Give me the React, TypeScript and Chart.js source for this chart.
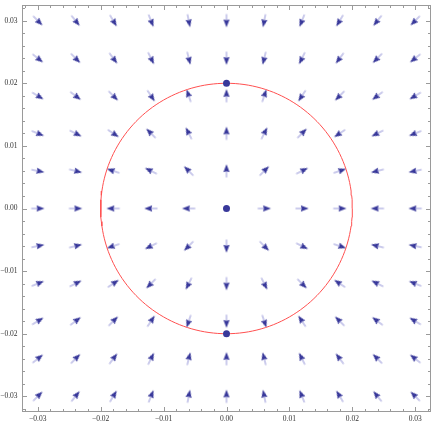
import { useEffect, useRef } from "react";
import { Chart, registerables } from "chart.js";

Chart.register(...registerables);

// ---- data ----
const AXIS_MIN = -0.0325;
const AXIS_MAX = 0.0325;
const GRID_X = [-0.03, -0.024, -0.018, -0.012, -0.006, 0, 0.006, 0.012, 0.018, 0.024, 0.03];
const GRID_Y = [-0.03, -0.024, -0.018, -0.012, -0.006, 0, 0.006, 0.012, 0.018, 0.024, 0.03];
const CIRCLE_RADIUS = 0.02;
const POINTS_X = [0, 0, 0];
const POINTS_Y = [0.02, 0, -0.02];
const MAJOR_TICKS = [-0.03, -0.02, -0.01, 0, 0.01, 0.02, 0.03];
const X_TICK_LABELS = ["\u22120.03", "\u22120.02", "\u22120.01", "0.00", "0.01", "0.02", "0.03"];
const Y_TICK_LABELS = ["\u22120.03", "\u22120.02", "\u22120.01", "0.00", "0.01", "0.02", "0.03"];
const MINOR_STEP = 0.002;

// vector field: radial, outward inside the circle, inward outside
function field(x: number, y: number): [number, number] {
  const r = Math.hypot(x, y);
  const s = CIRCLE_RADIUS - r;
  return [x * s, y * s];
}

function makeArrow(): HTMLCanvasElement {
  const c = document.createElement("canvas");
  c.width = 16;
  c.height = 16;
  const g = c.getContext("2d")!;
  g.strokeStyle = "rgba(135,135,210,0.85)";
  g.lineWidth = 1;
  g.beginPath();
  g.moveTo(8, 7.5);
  g.lineTo(8, 14.5);
  g.stroke();
  g.fillStyle = "#38389a";
  g.beginPath();
  g.moveTo(8, 1.3);
  g.lineTo(11.1, 9.2);
  g.lineTo(8, 8.2);
  g.lineTo(4.9, 9.2);
  g.closePath();
  g.fill();
  return c;
}

const FONT = "7.5px 'Liberation Serif', 'DejaVu Serif', serif";

const framePlugin = {
  id: "frameTicks",
  afterDraw(chart: any) {
    const { ctx, chartArea } = chart;
    const { left, right, top, bottom } = chartArea;
    const xs = chart.scales.x;
    const ys = chart.scales.y;
    ctx.save();
    ctx.strokeStyle = "#9a9a9a";
    ctx.lineWidth = 1;
    ctx.strokeRect(left + 0.5, top + 0.5, right - left - 1, bottom - top - 1);
    ctx.beginPath();
    const n = Math.round((AXIS_MAX - AXIS_MIN) / MINOR_STEP) + 2;
    for (let i = -n; i <= n; i++) {
      const v = i * MINOR_STEP;
      if (v < AXIS_MIN || v > AXIS_MAX) continue;
      const major = Math.abs(Math.round(v / 0.01) * 0.01 - v) < 1e-9;
      const len = major ? 5 : 3;
      const px = Math.round(xs.getPixelForValue(v)) + 0.5;
      ctx.moveTo(px, bottom);
      ctx.lineTo(px, bottom - len);
      ctx.moveTo(px, top);
      ctx.lineTo(px, top + len);
      const py = Math.round(ys.getPixelForValue(v)) + 0.5;
      ctx.moveTo(left, py);
      ctx.lineTo(left + len, py);
      ctx.moveTo(right, py);
      ctx.lineTo(right - len, py);
    }
    ctx.stroke();
    // tick labels
    ctx.fillStyle = "#333";
    ctx.font = FONT;
    ctx.textAlign = "center";
    ctx.textBaseline = "middle";
    MAJOR_TICKS.forEach((v, i) => {
      ctx.fillText(X_TICK_LABELS[i], xs.getPixelForValue(v), bottom + 7);
    });
    ctx.textAlign = "right";
    MAJOR_TICKS.forEach((v, i) => {
      ctx.fillText(Y_TICK_LABELS[i], left - 4.5, ys.getPixelForValue(v));
    });
    ctx.restore();
  },
};

export default function App() {
  const ref = useRef<HTMLCanvasElement | null>(null);
  useEffect(() => {
    document.body.style.margin = "0";
    const arrowImg = makeArrow();
    const arrows: any[] = [];
    for (const x of GRID_X) {
      for (const y of GRID_Y) {
        const [vx, vy] = field(x, y);
        if (Math.hypot(vx, vy) === 0) continue;
        arrows.push({ x, y, angle: (Math.atan2(vx, vy) * 180) / Math.PI });
      }
    }
    const circle: any[] = [];
    for (let a = 0; a <= 360; a += 2) {
      const t = (a * Math.PI) / 180;
      circle.push({ x: CIRCLE_RADIUS * Math.cos(t), y: CIRCLE_RADIUS * Math.sin(t) });
    }
    const dots = POINTS_X.map((x, i) => ({ x, y: POINTS_Y[i] }));
    const chart = new Chart(ref.current!, {
      type: "scatter",
      data: {
        datasets: [
          {
            data: dots,
            pointRadius: 3.5,
            pointBackgroundColor: "#38389a",
            pointBorderWidth: 0,
          },
          {
            data: circle,
            showLine: true,
            pointRadius: 0,
            borderColor: "#ff5050",
            borderWidth: 1,
          },
          {
            data: arrows,
            pointStyle: arrowImg as any,
            pointRadius: 3,
            pointRotation: (c: any) => c.raw?.angle ?? 0,
          },
        ],
      } as any,
      options: {
        animation: false,
        responsive: false,
        layout: { padding: { left: 22, right: 0, top: 0, bottom: 11 } },
        plugins: { legend: { display: false }, tooltip: { enabled: false } },
        scales: {
          x: { type: "linear", min: AXIS_MIN, max: AXIS_MAX, display: false },
          y: { type: "linear", min: AXIS_MIN, max: AXIS_MAX, display: false },
        },
      } as any,
      plugins: [framePlugin],
    });
    return () => chart.destroy();
  }, []);
  return <canvas ref={ref} width={436} height={423} style={{ display: "block" }} />;
}
